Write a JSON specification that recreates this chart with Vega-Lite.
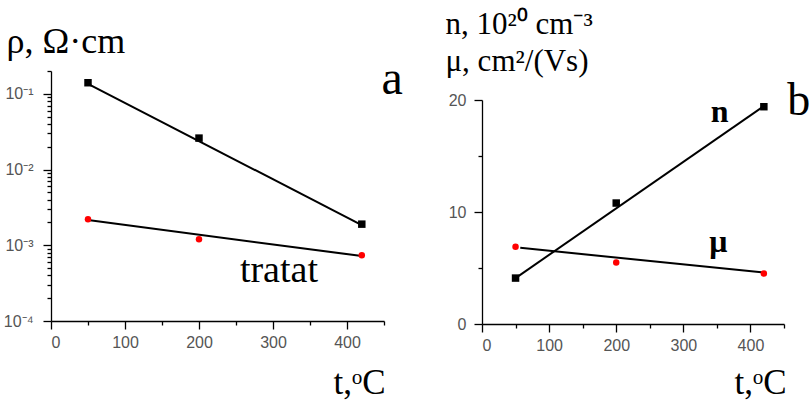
{
  "$schema": "https://vega.github.io/schema/vega-lite/v6.json",
  "padding": {"left": 3, "top": 8, "right": 0, "bottom": 0},
  "autosize": {"type": "pad"},
  "background": "white",
  "spacing": 42,
  "config": {
    "view": {"stroke": null},
    "axis": {
      "grid": false,
      "domainColor": "black",
      "tickColor": "black",
      "domainWidth": 1.3,
      "tickWidth": 1.3,
      "labelColor": "#555555",
      "labelFont": "Liberation Sans",
      "labelFontSize": 16,
      "titleFont": "Liberation Serif",
      "titleFontWeight": "normal",
      "titleColor": "black"
    }
  },
  "datasets": {
    "rho_pts": [
      {"t": 50, "rho": 0.14, "series": "as"},
      {"t": 200, "rho": 0.026, "series": "as"},
      {"t": 420, "rho": 0.0019, "series": "as"},
      {"t": 50, "rho": 0.0022, "series": "tratat"},
      {"t": 200, "rho": 0.0012, "series": "tratat"},
      {"t": 420, "rho": 0.00074, "series": "tratat"}
    ],
    "rho_fit": [
      {"t": 50, "rho": 0.135, "series": "as"},
      {"t": 420, "rho": 0.00185, "series": "as"},
      {"t": 50, "rho": 0.00215, "series": "tratat"},
      {"t": 420, "rho": 0.00072, "series": "tratat"}
    ],
    "b_pts": [
      {"t": 50, "v": 4.1, "series": "n"},
      {"t": 200, "v": 10.8, "series": "n"},
      {"t": 420, "v": 19.4, "series": "n"},
      {"t": 50, "v": 6.9, "series": "mu"},
      {"t": 200, "v": 5.5, "series": "mu"},
      {"t": 420, "v": 4.5, "series": "mu"}
    ],
    "b_fit": [
      {"t": 50, "v": 4.1, "series": "n"},
      {"t": 420, "v": 19.45, "series": "n"},
      {"t": 57, "v": 6.8, "series": "mu"},
      {"t": 420, "v": 4.6, "series": "mu"}
    ]
  },
  "hconcat": [
    {
      "width": 333,
      "height": 250,
      "encoding": {
        "x": {
          "field": "t",
          "type": "quantitative",
          "scale": {"domain": [0, 450], "nice": false},
          "axis": {
            "values": [0, 50, 100, 150, 200, 250, 300, 350, 400, 450],
            "labelExpr": "datum.value % 100 == 0 ? datum.label : ''",
            "tickSize": {"condition": {"test": "datum.value % 100 == 0", "value": 8}, "value": 4},
            "labelPadding": 5,
            "title": "t,ᵒC",
            "titleFontSize": 35,
            "titleX": 334,
            "titleY": 72,
            "titleAlign": "right",
            "titleBaseline": "alphabetic"
          }
        },
        "y": {
          "field": "rho",
          "type": "quantitative",
          "scale": {"type": "log", "domain": [0.0001, 0.2], "nice": false},
          "axis": {
            "values": [0.0001, 0.0002, 0.0003, 0.0004, 0.0005, 0.0006, 0.0007, 0.0008, 0.0009, 0.001, 0.002, 0.003, 0.004, 0.005, 0.006, 0.007, 0.008, 0.009, 0.01, 0.02, 0.03, 0.04, 0.05, 0.06, 0.07, 0.08, 0.09, 0.1, 0.2],
            "labelExpr": "datum.value == 0.1 ? '10⁻¹' : datum.value == 0.01 ? '10⁻²' : datum.value == 0.001 ? '10⁻³' : datum.value == 0.0001 ? '10⁻⁴' : ''",
            "tickSize": {"condition": {"test": "datum.value == 0.1 || datum.value == 0.01 || datum.value == 0.001 || datum.value == 0.0001", "value": 8}, "value": 4},
            "labelPadding": 10,
            "title": "ρ, Ω·cm",
            "titleFontSize": 36,
            "titleAngle": 0,
            "titleX": -45,
            "titleY": -19,
            "titleAlign": "left",
            "titleBaseline": "alphabetic"
          }
        }
      },
      "layer": [
        {
          "data": {"name": "rho_fit"},
          "mark": {"type": "line", "color": "black", "strokeWidth": 2},
          "encoding": {"detail": {"field": "series"}}
        },
        {
          "data": {"name": "rho_pts"},
          "transform": [{"filter": "datum.series == 'as'"}],
          "mark": {"type": "square", "color": "black", "size": 56, "opacity": 1}
        },
        {
          "data": {"name": "rho_pts"},
          "transform": [{"filter": "datum.series == 'tratat'"}],
          "mark": {"type": "circle", "color": "red", "size": 42, "opacity": 1}
        },
        {
          "data": {"values": [{"t": 308, "rho": 0.00033, "label": "tratat"}]},
          "mark": {"type": "text", "font": "Liberation Serif", "fontSize": 38, "align": "center", "baseline": "alphabetic", "color": "black"},
          "encoding": {"text": {"field": "label"}}
        },
        {
          "data": {"values": [{"t": 461, "rho": 0.1, "label": "a"}]},
          "mark": {"type": "text", "font": "Liberation Serif", "fontSize": 48, "align": "center", "baseline": "alphabetic", "color": "black"},
          "encoding": {"text": {"field": "label"}}
        }
      ]
    },
    {
      "width": 302,
      "height": 253,
      "encoding": {
        "x": {
          "field": "t",
          "type": "quantitative",
          "scale": {"domain": [0, 450], "nice": false},
          "axis": {
            "values": [0, 50, 100, 150, 200, 250, 300, 350, 400, 450],
            "labelExpr": "datum.value % 100 == 0 ? datum.label : ''",
            "tickSize": {"condition": {"test": "datum.value % 100 == 0", "value": 8}, "value": 4},
            "labelPadding": 5,
            "title": "t,ᵒC",
            "titleFontSize": 35,
            "titleX": 304,
            "titleY": 69,
            "titleAlign": "right",
            "titleBaseline": "alphabetic"
          }
        },
        "y": {
          "field": "v",
          "type": "quantitative",
          "scale": {"domain": [0, 20], "range": [253, 29], "nice": false, "zero": true},
          "axis": {
            "values": [0, 5, 10, 15, 20],
            "labelExpr": "datum.value % 10 == 0 ? datum.label : ''",
            "tickSize": {"condition": {"test": "datum.value % 10 == 0", "value": 8}, "value": 4},
            "labelPadding": 8,
            "title": ["n, 10²⁰ cm⁻³", "μ, cm²/(Vs)"],
            "titleFontSize": 31,
            "titleLineHeight": 37,
            "titleAngle": 0,
            "titleX": -37,
            "titleY": -38,
            "titleAlign": "left",
            "titleBaseline": "alphabetic"
          }
        }
      },
      "layer": [
        {
          "data": {"name": "b_fit"},
          "mark": {"type": "line", "color": "black", "strokeWidth": 2},
          "encoding": {"detail": {"field": "series"}}
        },
        {
          "data": {"name": "b_pts"},
          "transform": [{"filter": "datum.series == 'n'"}],
          "mark": {"type": "square", "color": "black", "size": 56, "opacity": 1}
        },
        {
          "data": {"name": "b_pts"},
          "transform": [{"filter": "datum.series == 'mu'"}],
          "mark": {"type": "circle", "color": "red", "size": 42, "opacity": 1}
        },
        {
          "data": {"values": [{"t": 354, "v": 18.0, "label": "n"}, {"t": 352, "v": 6.4, "label": "μ"}]},
          "mark": {"type": "text", "font": "Liberation Serif", "fontSize": 32, "fontWeight": "bold", "align": "center", "baseline": "alphabetic", "color": "black"},
          "encoding": {"text": {"field": "label"}}
        },
        {
          "data": {"values": [{"t": 455, "v": 18.7, "label": "b"}]},
          "mark": {"type": "text", "font": "Liberation Serif", "fontSize": 46, "align": "left", "baseline": "alphabetic", "color": "black"},
          "encoding": {"text": {"field": "label"}}
        }
      ]
    }
  ]
}
